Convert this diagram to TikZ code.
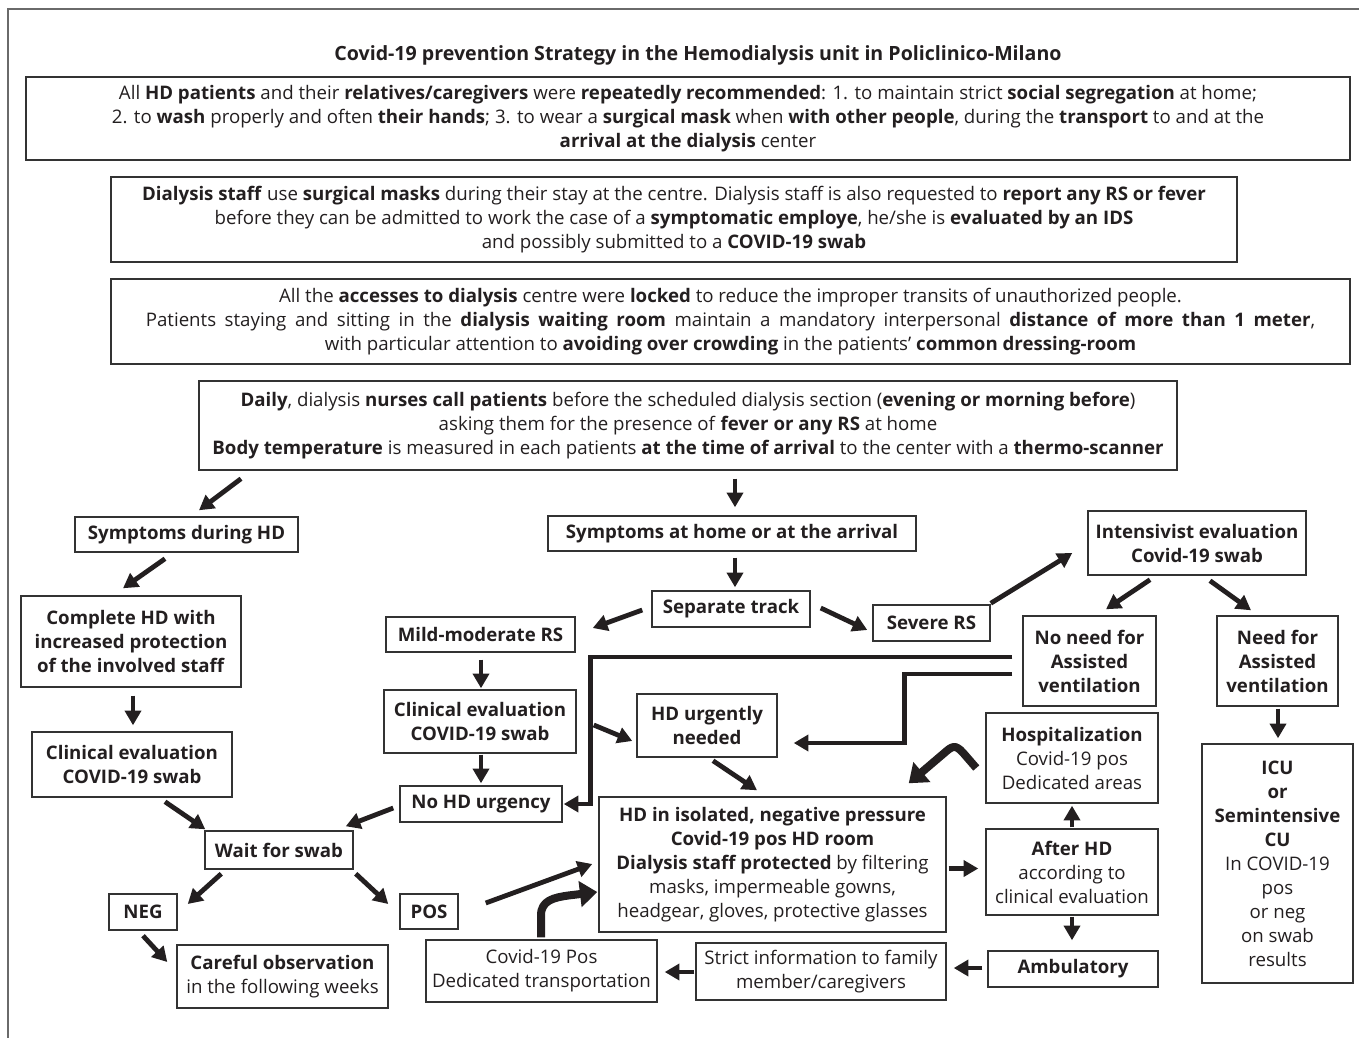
\documentclass[tikz,border=0pt]{standalone}
\usepackage{fontspec}
\setmainfont{Open Sans}
\usetikzlibrary{arrows.meta,calc}
\definecolor{ink}{HTML}{231F20}
\definecolor{boxc}{HTML}{333333}
\definecolor{framec}{HTML}{6A6A6A}
\begin{document}
\begin{tikzpicture}[x=0.75pt,y=-0.75pt,
  font=\fontsize{14}{18}\selectfont, text=ink,
  box/.style={draw=boxc,line width=1.1pt,align=center,inner sep=0pt},
  sz/.style 2 args={minimum width=#1*0.75pt,minimum height=#2*0.75pt},
  arr/.style={draw=ink,line width=3.6pt,-{Triangle[length=11pt,width=12pt]}},
  bigarr/.style={draw=ink,line width=6pt,line join=round,-{Triangle[length=13pt,width=19pt]}}]
\fill[white] (0,0) rectangle (1359,1038);
\useasboundingbox (0,0) rectangle (1359,1038);
\draw[framec,line width=1.2pt] (1359,9) -- (8,9) -- (8,1038);

\node[font=\fontsize{14.7}{18}\selectfont\bfseries] (title) at (698,55) {Covid-19 prevention Strategy in the Hemodialysis unit in Policlinico-Milano};

\node[box,sz={1324}{83}] (b1) at (688,118.5) {All \textbf{HD patients} and their \textbf{relatives/caregivers} were \textbf{repeatedly recommended}: 1. to maintain strict \textbf{social segregation} at home;\\
2. to \textbf{wash} properly and often \textbf{their hands}; 3. to wear a \textbf{surgical mask} when \textbf{with other people}, during the \textbf{transport} to and at the\\
\textbf{arrival at the dialysis} center};

\node[box,sz={1126}{85}] (b2) at (674,219.5) {\textbf{Dialysis staff} use \textbf{surgical masks} during their stay at the centre. Dialysis staff is also requested to \textbf{report any RS or fever}\\
before they can be admitted to work the case of a \textbf{symptomatic employe}, he/she is \textbf{evaluated by an IDS}\\
and possibly submitted to a \textbf{COVID-19 swab}};

\node[box,sz={1239}{85}] (b3) at (730.5,321.5) {All the \textbf{accesses to dialysis} centre were \textbf{locked} to reduce the improper transits of unauthorized people.\\
\makebox[877pt][s]{Patients staying and sitting in the \textbf{dialysis waiting room} maintain a mandatory interpersonal \textbf{distance of more than 1 meter},}\\
with particular attention to \textbf{avoiding over crowding} in the patients’ \textbf{common dressing-room}};

\node[box,sz={978}{89}] (b4) at (688,425.5) {\textbf{Daily}, dialysis \textbf{nurses call patients} before the scheduled dialysis section (\textbf{evening or morning before})\\
asking them for the presence of \textbf{fever or any RS} at home\\
\textbf{Body temperature} is measured in each patients \textbf{at the time of arrival} to the center with a \textbf{thermo-scanner}};

\node[box,sz={223}{35}] (sdhd) at (186.5,534.5) {\textbf{Symptoms during HD}};
\node[box,sz={368}{35}] (shome) at (732,533.5) {\textbf{Symptoms at home or at the arrival}};
\node[box,sz={218}{64}] (inten) at (1197,543) {\textbf{Intensivist evaluation}\\\textbf{Covid-19 swab}};
\node[box,sz={220}{91}] (chd) at (131,641.5) {\textbf{Complete HD with}\\\textbf{increased protection}\\\textbf{of the involved staff}};
\node[box,sz={158}{36}] (sep) at (731,609) {\textbf{Separate track}};
\node[box,sz={189}{35}] (mild) at (480.5,634.5) {\textbf{Mild-moderate RS}};
\node[box,sz={117}{36}] (sev) at (931.5,623) {\textbf{Severe RS}};
\node[box,sz={133}{90}] (noneed) at (1089.5,661) {\textbf{No need for}\\\textbf{Assisted}\\\textbf{ventilation}};
\node[box,sz={121}{90}] (need) at (1277.5,661) {\textbf{Need for}\\\textbf{Assisted}\\\textbf{ventilation}};
\node[box,sz={200}{65}] (cel) at (132,764.5) {\textbf{Clinical evaluation}\\\textbf{COVID-19 swab}};
\node[box,sz={192}{63}] (cem) at (480,721.5) {\textbf{Clinical evaluation}\\\textbf{COVID-19 swab}};
\node[box,sz={140}{63}] (hdu) at (707,725.5) {\textbf{HD urgently}\\\textbf{needed}};
\node[box,sz={172}{90}] (hosp) at (1072,758) {\textbf{Hospitalization}\\Covid-19 pos\\Dedicated areas};
\node[box,sz={151}{239}] (icu) at (1277.5,863.5) {\textbf{ICU}\\\textbf{or}\\\textbf{Semintensive}\\\textbf{CU}\\In COVID-19\\pos\\or neg\\on swab\\results};
\node[box,sz={162}{36}] (nohd) at (481,804) {\textbf{No HD urgency}};
\node[box,sz={148}{38}] (wait) at (279,850) {\textbf{Wait for swab}};
\node[box,sz={347}{135}] (hdiso) at (772.5,864.5) {\textbf{HD in isolated, negative pressure}\\\textbf{Covid-19 pos HD room}\\\textbf{Dialysis staff protected} by filtering\\masks, impermeable gowns,\\headgear, gloves, protective glasses};
\node[box,sz={172}{86}] (after) at (1072,872) {\textbf{After HD}\\according to\\clinical evaluation};
\node[box,sz={68}{36}] (neg) at (143,912) {\textbf{NEG}};
\node[box,sz={58}{35}] (pos) at (429,911.5) {\textbf{POS}};
\node[box,sz={211}{63}] (careful) at (282.5,976.5) {\textbf{Careful observation}\\in the following weeks};
\node[box,sz={231}{62}] (cpos) at (541.5,971) {Covid-19 Pos\\Dedicated transportation};
\node[box,sz={250}{57}] (strict) at (821,971.5) {Strict information to family\\member/caregivers};
\node[box,sz={170}{36}] (amb) at (1073,969) {\textbf{Ambulatory}};

% straight arrows
\draw[arr] ($(b4.south)+(-447,8)$) -- ($(sdhd.north)+(12.5,-6)$);
\draw[arr] ($(b4.south)+(47,8)$) -- ($(shome.north)+(3,-8)$);
\draw[arr] ($(sdhd.south)+(-21.5,6)$) -- ($(chd.north)+(-8,-7)$);
\draw[arr] ($(chd.south)+(2,8)$) -- ($(cel.north)+(1,-6)$);
\draw[arr] ($(cel.south)+(33,4)$) -- ($(wait.north west)+(1,-1)$);
\draw[arr] ($(wait.south west)+(17,4)$) -- ($(neg.east)+(10,-8)$);
\draw[arr] ($(wait.south east)+(2,4)$) -- ($(pos.west)+(-11,-7.5)$);
\draw[arr] ($(neg.south)+(0,5)$) -- ($(careful.west)+(-9,-14.5)$);
\draw[arr] ($(shome.south)+(3,6)$) -- ($(sep.north)+(4,-3)$);
\draw[arr] ($(sep.west)+(-9,1)$) -- ($(mild.east)+(17,-6.5)$);
\draw[arr] ($(sep.east)+(10,-1)$) -- ($(sev.west)+(-5,7)$);
\draw[arr] ($(sev.north east)+(0,-1)$) -- ($(inten.west)+(-15,10)$);
\draw[arr] ($(inten.south)+(-47,4)$) -- ($(noneed.north)+(16.5,-6)$);
\draw[arr] ($(inten.south)+(13,5)$) -- ($(need.north)+(-26.5,-5)$);
\draw[arr] ($(need.south)+(0.5,2)$) -- ($(icu.north)+(0.5,-5)$);
\draw[arr] ($(mild.south)+(0.5,7)$) -- ($(cem.north)+(1,-1)$);
\draw[arr] ($(cem.south)+(1,1)$) -- ($(nohd.north)+(0,-2)$);
\draw[arr] ($(nohd.west)+(-6,4)$) -- ($(wait.north east)+(-8,-4)$);
\draw[arr] ($(cem.east)+(17,3.5)$) -- ($(hdu.west)+(-4,15.5)$);
\draw[arr] ($(noneed.west)+(-10,-4)$) -| ($(nohd.east)+(28,0)$) -- ($(nohd.east)+(1,0)$);
\draw[arr] ($(noneed.west)+(-10,13)$) -| ($(hdu.east)+(127,17.5)$) -- ($(hdu.east)+(16,17.5)$);
\draw[arr] ($(hdu.south)+(6,3)$) -- ($(hdiso.north)+(-15.5,-6)$);
\draw[arr] ($(pos.east)+(27,-8.5)$) -- ($(hdiso.west)+(-6,-0.5)$);
\draw[arr] ($(hdiso.east)+(2,4)$) -- ($(after.west)+(-7,-3.5)$);
\draw[arr] ($(after.north)+(0,-1)$) -- ($(hosp.south)+(0,2)$);
\draw[arr] ($(after.south)+(0,1)$) -- ($(amb.north)+(-1,-10)$);
\draw[arr] ($(amb.west)+(-5,-1)$) -- ($(strict.east)+(7,-3.5)$);
\draw[arr] ($(strict.west)+(-1,0.5)$) -- ($(cpos.east)+(7,1)$);

% curved thick arrows
\draw[bigarr] ($(cpos.north)+(-0.5,-2)$) -- ($(cpos.north)+(-0.5,-24)$)
  .. controls +(0,-15) and +(-14,2) .. ($(hdiso.west)+(-30,31)$) -- ($(hdiso.west)+(-1,27.5)$);
\draw[bigarr] ($(hosp.west)+(-9,10)$) -- ($(hosp.west)+(-22,-5)$)
  .. controls +(-8,-9) and +(8,-7) .. ($(hosp.west)+(-41,-5)$) -- ($(hdiso.north east)+(-38,-13)$);
\end{tikzpicture}
\end{document}
